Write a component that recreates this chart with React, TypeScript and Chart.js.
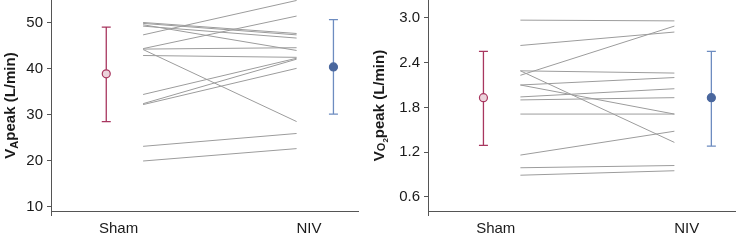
import React, { useEffect, useRef } from "react";
import { Chart, registerables } from "chart.js";

Chart.register(...registerables);

// ---------- Data ----------
const groupLabels = ["Sham", "NIV"];

// Left panel: VA peak (L/min)
const vaSham = [50.1, 49.9, 49.3, 49.6, 47.4, 44.4, 44.3, 44.2, 42.9, 34.4, 32.4, 32.2, 23.1, 19.9];
const vaNiv = [47.7, 47.4, 46.7, 44.0, 54.9, 51.5, 44.6, 28.5, 42.5, 42.3, 42.1, 40.1, 25.9, 22.6];
const vaMean = [38.9, 40.4];
const vaLow = [28.5, 30.1];
const vaHigh = [49.1, 50.7];
const vaTicks = [10, 20, 30, 40, 50];

// Right panel: VO2 peak (L/min)
const voSham = [2.97, 2.63, 2.23, 2.29, 2.29, 2.1, 2.1, 1.94, 1.9, 1.71, 1.16, 0.99, 0.89];
const voNiv = [2.96, 2.81, 2.89, 2.26, 1.33, 2.2, 1.71, 2.05, 1.93, 1.71, 1.48, 1.02, 0.95];
const voMean = [1.93, 1.93];
const voLow = [1.29, 1.28];
const voHigh = [2.55, 2.55];
const voTicks = [0.6, 1.2, 1.8, 2.4, 3.0];

// ---------- Layout constants (x positions in axis units) ----------
const X_ERR = [0.18, 0.92];
const X_LINE = [0.3, 0.8];
const X_LABEL = [0.22, 0.84];

const FONT = "'Liberation Sans', Arial, Helvetica, sans-serif";
const GROUP_COLORS = [
  { line: "#a8365f", fill: "#ecd3db", border: "#a8365f" },
  { line: "#6d8cc0", fill: "#4a679e", border: "#4a679e" },
];

type TitlePart = { text: string; size: number; dy: number };

function makePanel(
  canvas: HTMLCanvasElement,
  sham: number[],
  niv: number[],
  mean: number[],
  low: number[],
  high: number[],
  yTicks: number[],
  yMin: number,
  yMax: number,
  yAxisWidth: number,
  rightPad: number,
  titleParts: TitlePart[],
  titleX: number,
  decimals: number
) {
  const lineDatasets = sham.map((s, i) => ({
    type: "line" as const,
    data: [
      { x: X_LINE[0], y: s },
      { x: X_LINE[1], y: niv[i] },
    ],
    borderColor: "#9c9c9c",
    borderWidth: 1,
    pointRadius: 0,
    fill: false,
  }));

  const meanDatasets = mean.map((m, i) => ({
    type: "scatter" as const,
    data: [{ x: X_ERR[i], y: m }],
    backgroundColor: GROUP_COLORS[i].fill,
    borderColor: GROUP_COLORS[i].border,
    borderWidth: 1.2,
    pointRadius: 4,
  }));

  const errorPlugin = {
    id: "errbars",
    beforeDatasetsDraw(chart: any) {
      const { ctx, scales } = chart;
      const xs = scales.x;
      const ys = scales.y;
      ctx.save();
      mean.forEach((_, i) => {
        const x = xs.getPixelForValue(X_ERR[i]);
        const yl = ys.getPixelForValue(low[i]);
        const yh = ys.getPixelForValue(high[i]);
        ctx.strokeStyle = GROUP_COLORS[i].line;
        ctx.lineWidth = 1.3;
        ctx.beginPath();
        ctx.moveTo(x, yl);
        ctx.lineTo(x, yh);
        ctx.moveTo(x - 4.5, yl);
        ctx.lineTo(x + 4.5, yl);
        ctx.moveTo(x - 4.5, yh);
        ctx.lineTo(x + 4.5, yh);
        ctx.stroke();
      });
      ctx.restore();
    },
  };

  const titlePlugin = {
    id: "ytitle",
    afterDraw(chart: any) {
      const { ctx, chartArea } = chart;
      ctx.save();
      ctx.fillStyle = "#1a1a1a";
      ctx.textBaseline = "alphabetic";
      ctx.textAlign = "left";
      let total = 0;
      titleParts.forEach((p) => {
        ctx.font = `bold ${p.size}px ${FONT}`;
        total += ctx.measureText(p.text).width;
      });
      const cy = (chartArea.top + chartArea.bottom) / 2;
      ctx.translate(titleX, cy);
      ctx.rotate(-Math.PI / 2);
      let x = -total / 2;
      titleParts.forEach((p) => {
        ctx.font = `bold ${p.size}px ${FONT}`;
        ctx.fillText(p.text, x, 5.5 + p.dy);
        x += ctx.measureText(p.text).width;
      });
      ctx.restore();
    },
  };

  const yAxisExtend = {
    id: "yext",
    afterDraw(chart: any) {
      const { ctx, chartArea } = chart;
      ctx.save();
      ctx.strokeStyle = "#555";
      ctx.lineWidth = 1;
      ctx.beginPath();
      ctx.moveTo(chartArea.left + 0.5, chartArea.bottom);
      ctx.lineTo(chartArea.left + 0.5, chartArea.bottom + 5);
      ctx.stroke();
      ctx.restore();
    },
  };

  return new Chart(canvas, {
    type: "line",
    data: { datasets: [...lineDatasets, ...meanDatasets] as any },
    plugins: [errorPlugin, titlePlugin, yAxisExtend],
    options: {
      animation: false,
      responsive: false,
      maintainAspectRatio: false,
      layout: { autoPadding: false, padding: { top: 0, right: rightPad, left: 0, bottom: 0 } },
      plugins: {
        legend: { display: false },
        tooltip: { enabled: false },
        title: { display: false },
      },
      scales: {
        x: {
          type: "linear",
          min: 0,
          max: 1,
          afterBuildTicks(scale: any) {
            scale.ticks = X_LABEL.map((v) => ({ value: v }));
          },
          afterFit(scale: any) {
            scale.height = 29;
            scale.paddingLeft = 0;
            scale.paddingRight = 0;
          },
          ticks: {
            autoSkip: false,
            maxRotation: 0,
            padding: 9,
            color: "#1a1a1a",
            font: { family: FONT, size: 15 },
            callback: (_v: any, i: number) => groupLabels[i],
          },
          grid: { display: true, drawOnChartArea: false, drawTicks: false },
          border: { display: true, color: "#555", width: 1 },
        },
        y: {
          type: "linear",
          min: yMin,
          max: yMax,
          afterBuildTicks(scale: any) {
            scale.ticks = yTicks.map((v) => ({ value: v }));
          },
          afterFit(scale: any) {
            scale.width = yAxisWidth;
            scale.paddingTop = 0;
            scale.paddingBottom = 0;
          },
          ticks: {
            padding: 4,
            color: "#1a1a1a",
            font: { family: FONT, size: 15 },
            callback: (v: any) => Number(v).toFixed(decimals),
          },
          grid: {
            display: true,
            drawOnChartArea: false,
            drawTicks: true,
            tickLength: 4,
            color: "#555",
          },
          border: { display: true, color: "#555", width: 1 },
        },
      },
    } as any,
  });
}

export default function App() {
  const leftRef = useRef<HTMLCanvasElement>(null);
  const rightRef = useRef<HTMLCanvasElement>(null);

  useEffect(() => {
    const c1 = makePanel(
      leftRef.current!,
      vaSham,
      vaNiv,
      vaMean,
      vaLow,
      vaHigh,
      vaTicks,
      9,
      55,
      51,
      10,
      [
        { text: "V", size: 15, dy: 0 },
        { text: "A", size: 11, dy: 3 },
        { text: "peak (L/min)", size: 15, dy: 0 },
      ],
      9,
      0
    );
    const c2 = makePanel(
      rightRef.current!,
      voSham,
      voNiv,
      voMean,
      voLow,
      voHigh,
      voTicks,
      0.41,
      3.24,
      60,
      0,
      [
        { text: "V", size: 15, dy: 0 },
        { text: "O", size: 11, dy: 1 },
        { text: "2", size: 8, dy: 4 },
        { text: "peak (L/min)", size: 15, dy: 0 },
      ],
      10,
      1
    );
    return () => {
      c1.destroy();
      c2.destroy();
    };
  }, []);

  return (
    <div style={{ position: "fixed", left: 0, top: 0, width: 736, height: 240, background: "#fff", display: "flex" }}>
      <canvas ref={leftRef} width={368} height={240} style={{ width: 368, height: 240 }} />
      <canvas ref={rightRef} width={368} height={240} style={{ width: 368, height: 240 }} />
    </div>
  );
}
